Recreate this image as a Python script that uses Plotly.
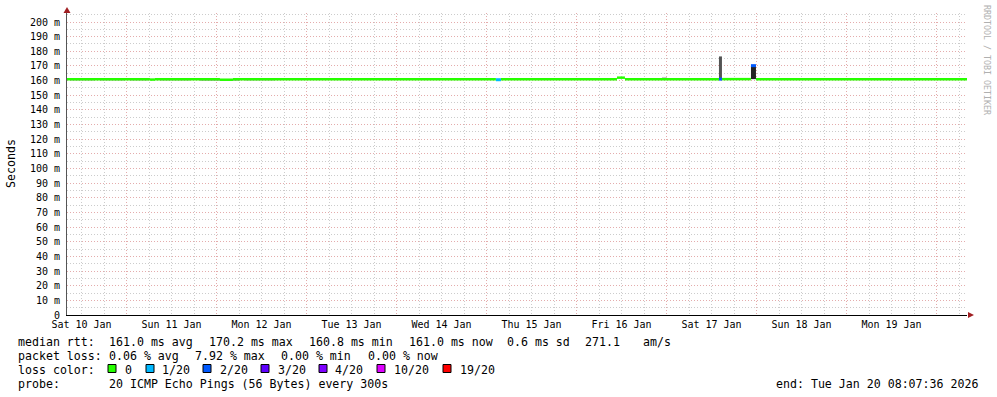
import plotly.graph_objects as go

# ---------------- data ----------------
range_start = "2026-01-10 08:07:36"
range_end = "2026-01-20 08:07:36"

# median rtt segments (seconds in milli units shown as "m")
seg_start = ["2026-01-10 08:07:36", "2026-01-11 06:15", "2026-01-11 07:35", "2026-01-12 00:55",
             "2026-01-12 04:23", "2026-01-15 02:30", "2026-01-15 03:51", "2026-01-16 10:47",
             "2026-01-16 12:55", "2026-01-17 13:59", "2026-01-17 14:47", "2026-01-17 22:31",
             "2026-01-17 23:51"]
seg_end = ["2026-01-11 06:15", "2026-01-11 07:35", "2026-01-12 00:55", "2026-01-12 04:23",
           "2026-01-15 02:30", "2026-01-15 03:51", "2026-01-16 10:47", "2026-01-16 12:55",
           "2026-01-17 13:59", "2026-01-17 14:47", "2026-01-17 22:31", "2026-01-17 23:51",
           "2026-01-20 08:07:36"]
seg_median = [161.0, 160.7, 161.0, 160.6, 161.0, 160.6, 161.0, 162.0, 161.0, 161.0, 161.0, 170.2, 161.0]
seg_loss = [0, 0, 0, 0, 0, 1, 0, 0, 0, 2, 0, 2, 0]

# smoke (ping spread) segments
smoke_start = ["2026-01-10 08:55", "2026-01-10 16:55", "2026-01-11 00:55", "2026-01-11 08:55",
               "2026-01-11 19:35", "2026-01-12 07:35", "2026-01-16 22:47", "2026-01-17 13:59",
               "2026-01-17 22:31"]
smoke_end = ["2026-01-10 15:35", "2026-01-10 23:35", "2026-01-11 05:43", "2026-01-11 16:55",
             "2026-01-12 06:15", "2026-01-12 15:35", "2026-01-17 00:07", "2026-01-17 14:47",
             "2026-01-17 23:51"]
smoke_lo = [160.2, 160.2, 160.2, 160.2, 160.1, 160.2, 161.0, 161.0, 161.0]
smoke_hi = [161.0, 161.0, 161.0, 161.0, 161.0, 161.0, 162.5, 176.5, 170.5]
smoke_shade = ["#7a7a7a", "#7a7a7a", "#7a7a7a", "#7a7a7a", "#7a7a7a", "#8a8a8a", "#c8c8c8", "#545454", "#222222"]

loss_labels = ["0", "1/20", "2/20", "3/20", "4/20", "10/20", "19/20"]
loss_colors = ["#26ff00", "#00b8ff", "#0059ff", "#5e00ff", "#7e00ff", "#dd00ff", "#ff0000"]

y_tick_vals = list(range(0, 201, 10))
y_tick_text = ["0"] + [f"{v} m" for v in range(10, 201, 10)]

stats_rtt = ["median rtt:", "161.0 ms avg", "170.2 ms max", "160.8 ms min", "161.0 ms now",
             "0.6 ms sd", "271.1", "am/s"]
stats_loss = ["packet loss:", "0.06 % avg", "7.92 % max", "0.00 % min", "0.00 % now"]
probe_text = "20 ICMP Echo Pings (56 Bytes) every 300s"
end_text = "end: Tue Jan 20 08:07:36 2026"

# ---------------- layout helpers ----------------
L, R, T, B = 67, 967, 13, 315
W, H = 997, 397


def px(x):
    return (x - L) / (R - L)


def py(y):
    return (B - y) / (B - T)


MONO = "DejaVu Sans Mono"
fig = go.Figure()

# smoke
for s, e, lo, hi, c in zip(smoke_start, smoke_end, smoke_lo, smoke_hi, smoke_shade):
    fig.add_trace(go.Scatter(x=[s, e, e, s, s], y=[lo, lo, hi, hi, lo], mode="lines",
                             fill="toself", fillcolor=c, line=dict(width=0, color=c),
                             hoverinfo="skip", showlegend=False))

# median line by loss colour
for li, col in enumerate(loss_colors):
    xs, ys = [], []
    for s, e, v, l in zip(seg_start, seg_end, seg_median, seg_loss):
        if l == li:
            xs += [s, e, None]
            ys += [v, v, None]
    if xs:
        fig.add_trace(go.Scatter(x=xs, y=ys, mode="lines",
                                 line=dict(color=col, width=2.5 if li == 0 else 3),
                                 hoverinfo="skip", showlegend=False, connectgaps=False))

MAJ = "#e4acac"
MIN = "#cccccc"

fig.update_layout(
    width=W, height=H,
    margin=dict(l=L, r=W - R, t=T, b=H - B),
    paper_bgcolor="white", plot_bgcolor="white",
    font=dict(family=MONO, size=10, color="#000"),
    xaxis=dict(type="date", range=[range_start, range_end],
               tickmode="linear", tick0="2026-01-10", dtick=86400000,
               ticklabelmode="period", tickformat="%a %d %b",
               showgrid=True, gridcolor=MAJ, griddash="1px,2px", gridwidth=1,
               minor=dict(dtick=6 * 3600 * 1000, showgrid=True, gridcolor=MIN,
                          griddash="1px,2px", gridwidth=1),
               showline=True, linecolor="#000", linewidth=1, zeroline=False,
               ticks="", tickfont=dict(family=MONO, size=10, color="#000")),
    yaxis=dict(range=[0, (B - T) / 1.465], tickmode="array", tickvals=y_tick_vals,
               ticktext=y_tick_text,
               showgrid=True, gridcolor=MAJ, griddash="1px,2px", gridwidth=1,
               minor=dict(dtick=5, showgrid=True, gridcolor=MIN, griddash="1px,2px",
                          gridwidth=1),
               showline=True, linecolor="#555", linewidth=1, zeroline=False,
               ticks="", ticklabelstandoff=4, tickfont=dict(family=MONO, size=10, color="#000")),
)

shapes = []
# axis arrows
ar = "#a01f22"
shapes.append(dict(type="path", xref="paper", yref="paper", fillcolor=ar, line=dict(width=0),
                   path=f"M {px(63.5)},{py(13)} L {px(67)},{py(7)} L {px(70.5)},{py(13)} Z"))
shapes.append(dict(type="path", xref="paper", yref="paper", fillcolor=ar, line=dict(width=0),
                   path=f"M {px(968)},{py(312)} L {px(974)},{py(315)} L {px(968)},{py(318)} Z"))

annotations = []


def txt(x, y, t, size=11.6, color="#000", xanchor="left", angle=0):
    annotations.append(dict(x=px(x), y=py(y), xref="paper", yref="paper", text=t.replace(" ", "\u00a0"),
                            showarrow=False, xanchor=xanchor, yanchor="middle",
                            font=dict(family=MONO, size=size, color=color), textangle=angle))


row_y = [341.5, 355.5, 369.5, 383.5]
for x, t in zip([16, 107, 207, 307, 407, 505, 583, 641], stats_rtt):
    txt(x, row_y[0], t)
for x, t in zip([16, 107, 193, 279, 366], stats_loss):
    txt(x, row_y[1], t)
txt(16, row_y[2], "loss color:")
box_x = [108, 146, 203, 261, 319, 377, 443]
lab_x = [123, 160, 218, 276, 333, 392, 458]
for bx, lx, lab, col in zip(box_x, lab_x, loss_labels, loss_colors):
    shapes.append(dict(type="rect", xref="paper", yref="paper", x0=px(bx), x1=px(bx + 8),
                       y0=py(372.5), y1=py(364.5), fillcolor=col, line=dict(color="#000", width=1)))
    txt(lx, row_y[2], lab)
txt(16, row_y[3], "probe:")
txt(107, row_y[3], probe_text)
txt(980, row_y[3], end_text, xanchor="right")

# axis title and watermark
txt(11, 164, "Seconds", angle=-90, xanchor="center")
txt(987, 60, "RRDTOOL / TOBI OETIKER", size=8.3, color="#b0b0b0", xanchor="center", angle=90)

fig.update_layout(shapes=shapes, annotations=annotations)
fig.write_html("out.html")
